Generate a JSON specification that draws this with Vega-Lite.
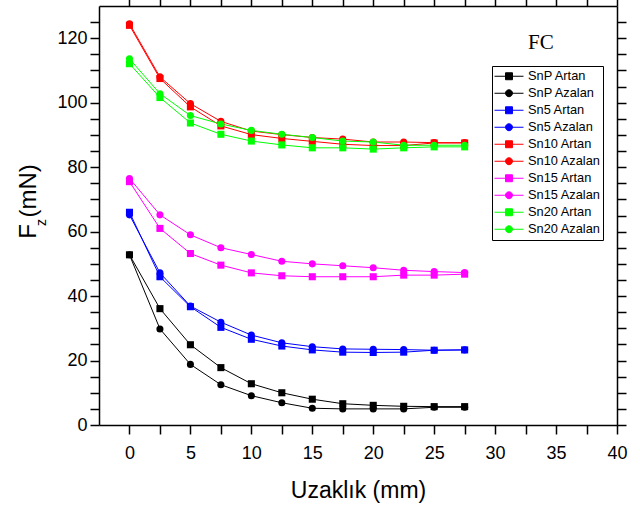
{
  "$schema": "https://vega.github.io/schema/vega-lite/v6.json",
  "width": 518,
  "height": 419,
  "autosize": "none",
  "padding": {"left": 99, "top": 6, "right": 23, "bottom": 81},
  "background": "white",
  "title": {"text": "FC", "font": "Liberation Serif", "fontSize": 21, "fontWeight": "normal", "color": "black", "anchor": "start", "frame": "group", "align": "left", "baseline": "alphabetic", "offset": 0, "dx": 429, "dy": 74},
  "config": {
    "font": "Liberation Sans",
    "view": {"stroke": null},
    "axis": {"domainColor": "black", "domainWidth": 1.5, "tickColor": "black", "tickWidth": 1.5, "labelColor": "black", "titleColor": "black", "grid": false, "labelFont": "Liberation Sans", "titleFont": "Liberation Sans", "titleFontWeight": "normal"},
    "legend": {"orient": "none", "legendX": 393, "legendY": 60, "title": null, "strokeColor": "black", "fillColor": "white", "padding": 2, "symbolSize": 841, "clipHeight": 16.5, "rowPadding": 0, "labelOffset": 4, "labelFontSize": 12.8, "labelColor": "black", "labelFont": "Liberation Sans", "symbolStrokeWidth": 1}
  },
  "data": {"values": [
    {"x":0,"y":52.8,"series":"SnP Artan"},{"x":2.5,"y":36.1,"series":"SnP Artan"},{"x":5,"y":24.9,"series":"SnP Artan"},{"x":7.5,"y":17.8,"series":"SnP Artan"},{"x":10,"y":12.8,"series":"SnP Artan"},{"x":12.5,"y":10.0,"series":"SnP Artan"},{"x":15,"y":8.0,"series":"SnP Artan"},{"x":17.5,"y":6.6,"series":"SnP Artan"},{"x":20,"y":6.1,"series":"SnP Artan"},{"x":22.5,"y":5.8,"series":"SnP Artan"},{"x":25,"y":5.7,"series":"SnP Artan"},{"x":27.5,"y":5.7,"series":"SnP Artan"},
    {"x":0,"y":52.8,"series":"SnP Azalan"},{"x":2.5,"y":29.8,"series":"SnP Azalan"},{"x":5,"y":18.8,"series":"SnP Azalan"},{"x":7.5,"y":12.5,"series":"SnP Azalan"},{"x":10,"y":9.1,"series":"SnP Azalan"},{"x":12.5,"y":6.9,"series":"SnP Azalan"},{"x":15,"y":5.2,"series":"SnP Azalan"},{"x":17.5,"y":5.0,"series":"SnP Azalan"},{"x":20,"y":5.0,"series":"SnP Azalan"},{"x":22.5,"y":5.0,"series":"SnP Azalan"},{"x":25,"y":5.5,"series":"SnP Azalan"},{"x":27.5,"y":5.5,"series":"SnP Azalan"},
    {"x":0,"y":66.0,"series":"Sn5 Artan"},{"x":2.5,"y":46.0,"series":"Sn5 Artan"},{"x":5,"y":36.7,"series":"Sn5 Artan"},{"x":7.5,"y":30.3,"series":"Sn5 Artan"},{"x":10,"y":26.6,"series":"Sn5 Artan"},{"x":12.5,"y":24.5,"series":"Sn5 Artan"},{"x":15,"y":23.3,"series":"Sn5 Artan"},{"x":17.5,"y":22.6,"series":"Sn5 Artan"},{"x":20,"y":22.5,"series":"Sn5 Artan"},{"x":22.5,"y":22.6,"series":"Sn5 Artan"},{"x":25,"y":23.2,"series":"Sn5 Artan"},{"x":27.5,"y":23.3,"series":"Sn5 Artan"},
    {"x":0,"y":65.2,"series":"Sn5 Azalan"},{"x":2.5,"y":47.2,"series":"Sn5 Azalan"},{"x":5,"y":36.9,"series":"Sn5 Azalan"},{"x":7.5,"y":31.9,"series":"Sn5 Azalan"},{"x":10,"y":27.9,"series":"Sn5 Azalan"},{"x":12.5,"y":25.5,"series":"Sn5 Azalan"},{"x":15,"y":24.3,"series":"Sn5 Azalan"},{"x":17.5,"y":23.6,"series":"Sn5 Azalan"},{"x":20,"y":23.5,"series":"Sn5 Azalan"},{"x":22.5,"y":23.4,"series":"Sn5 Azalan"},{"x":25,"y":23.2,"series":"Sn5 Azalan"},{"x":27.5,"y":23.3,"series":"Sn5 Azalan"},
    {"x":0,"y":124.0,"series":"Sn10 Artan"},{"x":2.5,"y":107.5,"series":"Sn10 Artan"},{"x":5,"y":98.7,"series":"Sn10 Artan"},{"x":7.5,"y":92.8,"series":"Sn10 Artan"},{"x":10,"y":90.1,"series":"Sn10 Artan"},{"x":12.5,"y":88.9,"series":"Sn10 Artan"},{"x":15,"y":88.0,"series":"Sn10 Artan"},{"x":17.5,"y":87.1,"series":"Sn10 Artan"},{"x":20,"y":86.7,"series":"Sn10 Artan"},{"x":22.5,"y":86.7,"series":"Sn10 Artan"},{"x":25,"y":87.5,"series":"Sn10 Artan"},{"x":27.5,"y":87.5,"series":"Sn10 Artan"},
    {"x":0,"y":124.5,"series":"Sn10 Azalan"},{"x":2.5,"y":108.0,"series":"Sn10 Azalan"},{"x":5,"y":99.7,"series":"Sn10 Azalan"},{"x":7.5,"y":94.2,"series":"Sn10 Azalan"},{"x":10,"y":91.2,"series":"Sn10 Azalan"},{"x":12.5,"y":90.1,"series":"Sn10 Azalan"},{"x":15,"y":89.2,"series":"Sn10 Azalan"},{"x":17.5,"y":88.7,"series":"Sn10 Azalan"},{"x":20,"y":87.8,"series":"Sn10 Azalan"},{"x":22.5,"y":87.8,"series":"Sn10 Azalan"},{"x":25,"y":87.6,"series":"Sn10 Azalan"},{"x":27.5,"y":87.6,"series":"Sn10 Azalan"},
    {"x":0,"y":75.5,"series":"Sn15 Artan"},{"x":2.5,"y":61.0,"series":"Sn15 Artan"},{"x":5,"y":53.2,"series":"Sn15 Artan"},{"x":7.5,"y":49.6,"series":"Sn15 Artan"},{"x":10,"y":47.2,"series":"Sn15 Artan"},{"x":12.5,"y":46.3,"series":"Sn15 Artan"},{"x":15,"y":46.0,"series":"Sn15 Artan"},{"x":17.5,"y":46.0,"series":"Sn15 Artan"},{"x":20,"y":46.0,"series":"Sn15 Artan"},{"x":22.5,"y":46.5,"series":"Sn15 Artan"},{"x":25,"y":46.5,"series":"Sn15 Artan"},{"x":27.5,"y":46.8,"series":"Sn15 Artan"},
    {"x":0,"y":76.5,"series":"Sn15 Azalan"},{"x":2.5,"y":65.2,"series":"Sn15 Azalan"},{"x":5,"y":59.0,"series":"Sn15 Azalan"},{"x":7.5,"y":55.0,"series":"Sn15 Azalan"},{"x":10,"y":52.9,"series":"Sn15 Azalan"},{"x":12.5,"y":50.8,"series":"Sn15 Azalan"},{"x":15,"y":50.0,"series":"Sn15 Azalan"},{"x":17.5,"y":49.4,"series":"Sn15 Azalan"},{"x":20,"y":48.8,"series":"Sn15 Azalan"},{"x":22.5,"y":48.0,"series":"Sn15 Azalan"},{"x":25,"y":47.6,"series":"Sn15 Azalan"},{"x":27.5,"y":47.3,"series":"Sn15 Azalan"},
    {"x":0,"y":112.1,"series":"Sn20 Artan"},{"x":2.5,"y":101.6,"series":"Sn20 Artan"},{"x":5,"y":93.7,"series":"Sn20 Artan"},{"x":7.5,"y":90.2,"series":"Sn20 Artan"},{"x":10,"y":88.1,"series":"Sn20 Artan"},{"x":12.5,"y":86.9,"series":"Sn20 Artan"},{"x":15,"y":86.0,"series":"Sn20 Artan"},{"x":17.5,"y":86.0,"series":"Sn20 Artan"},{"x":20,"y":85.6,"series":"Sn20 Artan"},{"x":22.5,"y":86.0,"series":"Sn20 Artan"},{"x":25,"y":86.3,"series":"Sn20 Artan"},{"x":27.5,"y":86.3,"series":"Sn20 Artan"},
    {"x":0,"y":113.6,"series":"Sn20 Azalan"},{"x":2.5,"y":102.8,"series":"Sn20 Azalan"},{"x":5,"y":96.0,"series":"Sn20 Azalan"},{"x":7.5,"y":93.4,"series":"Sn20 Azalan"},{"x":10,"y":91.4,"series":"Sn20 Azalan"},{"x":12.5,"y":90.2,"series":"Sn20 Azalan"},{"x":15,"y":89.2,"series":"Sn20 Azalan"},{"x":17.5,"y":88.1,"series":"Sn20 Azalan"},{"x":20,"y":87.8,"series":"Sn20 Azalan"},{"x":22.5,"y":86.8,"series":"Sn20 Azalan"},{"x":25,"y":86.8,"series":"Sn20 Azalan"},{"x":27.5,"y":86.8,"series":"Sn20 Azalan"}
  ]},
  "resolve": {"axis": {"x": "independent", "y": "independent"}},
  "encoding": {
    "color": {"field": "series", "type": "nominal",
      "scale": {"domain": ["SnP Artan","SnP Azalan","Sn5 Artan","Sn5 Azalan","Sn10 Artan","Sn10 Azalan","Sn15 Artan","Sn15 Azalan","Sn20 Artan","Sn20 Azalan"],
        "range": ["#000000","#000000","#0000ff","#0000ff","#ff0000","#ff0000","#ff00ff","#ff00ff","#00ff00","#00ff00"]},
      "legend": {
        "encode": {"symbols": {"update": {
          "shape": {"signal": "indexof(datum.value, 'Artan') >= 0 ? 'M-1,0H1M-0.24,-0.24H0.24V0.24H-0.24Z' : 'M-1,0H1M-0.24,0A0.24,0.24,0,1,0,0.24,0A0.24,0.24,0,1,0,-0.24,0Z'"},
          "stroke": {"scale": "color", "field": "value"},
          "fill": {"scale": "color", "field": "value"},
          "strokeWidth": {"value": 1},
          "opacity": {"value": 1}
        }}}}}
  },
  "layer": [
    {
      "mark": {"type": "line", "strokeWidth": 1},
      "encoding": {
        "x": {"field": "x", "type": "quantitative", "scale": {"domain": [-2.5, 40], "nice": false, "zero": false},
          "axis": {"orient": "bottom", "values": [0,2.5,5,7.5,10,12.5,15,17.5,20,22.5,25,27.5,30,32.5,35,37.5,40], "tickSize": 9, "labelFontSize": 18, "labelPadding": 24, "labelBaseline": "alphabetic", "labelFlush": false, "labelOverlap": false,
            "labelExpr": "datum.value % 5 == 0 ? datum.label : ''",
            "encode": {"ticks": {"update": {"y2": {"signal": "datum.value % 5 == 0 ? 9 : -4"}}}},
            "title": "Uzaklık (mm)", "titleFontSize": 23, "titleY": 72, "titleBaseline": "alphabetic", "titleAnchor": "middle"}},
        "y": {"field": "y", "type": "quantitative", "scale": {"domain": [0, 130], "nice": false, "zero": false},
          "axis": {"orient": "left", "values": [0,5,10,15,20,25,30,35,40,45,50,55,60,65,70,75,80,85,90,95,100,105,110,115,120,125], "tickSize": 9, "labelFontSize": 18, "labelPadding": 3, "labelBaseline": "middle", "labelFlush": false, "labelOverlap": false,
            "labelExpr": "datum.value % 20 == 0 ? datum.label : ''",
            "encode": {"ticks": {"update": {"x2": {"signal": "datum.value % 20 == 0 ? -9 : 4"}}}},
            "title": "F   (mN)", "titleFontSize": 24, "titleAngle": 270, "titleX": -64, "titleY": 195, "titleAlign": "center", "titleBaseline": "alphabetic"}},
        "detail": {"field": "series"}
      }
    },
    {
      "transform": [{"filter": "indexof(datum.series, 'Artan') >= 0"}],
      "mark": {"type": "point", "filled": true, "opacity": 1, "size": 50, "shape": "square"},
      "encoding": {
        "x": {"field": "x", "type": "quantitative",
          "axis": {"orient": "top", "values": [0,2.5,5,7.5,10,12.5,15,17.5,20,22.5,25,27.5,30,32.5,35,37.5,40], "tickSize": 9, "labels": false, "title": null,
            "encode": {"ticks": {"update": {"y2": {"signal": "datum.value % 5 == 0 ? 9 : 4"}}}}}},
        "y": {"field": "y", "type": "quantitative",
          "axis": {"orient": "right", "values": [0,5,10,15,20,25,30,35,40,45,50,55,60,65,70,75,80,85,90,95,100,105,110,115,120,125], "tickSize": 9, "labels": false,
            "encode": {"ticks": {"update": {"x2": {"signal": "datum.value % 20 == 0 ? -9 : -5"}}}},
            "title": "z", "titleFontSize": 14, "titleAngle": 270, "titleX": -572, "titleY": 216, "titleAlign": "center", "titleBaseline": "alphabetic"}}
      }
    },
    {
      "transform": [{"filter": "indexof(datum.series, 'Azalan') >= 0"}],
      "mark": {"type": "point", "filled": true, "opacity": 1, "size": 50, "shape": "circle"},
      "encoding": {
        "x": {"field": "x", "type": "quantitative", "axis": null},
        "y": {"field": "y", "type": "quantitative", "axis": null}
      }
    }
  ]
}
